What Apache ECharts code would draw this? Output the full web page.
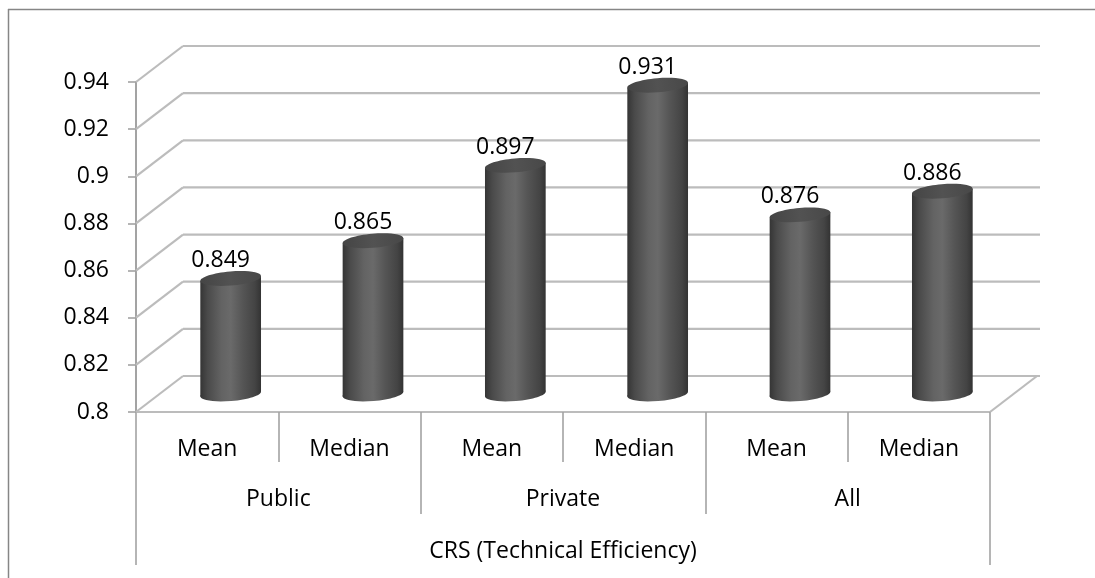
<!DOCTYPE html>
<html>
<head>
<meta charset="utf-8">
<script src="https://cdn.jsdelivr.net/npm/echarts@6/dist/echarts.min.js"></script>
<style>
  html, body { margin: 0; padding: 0; background: #fff; }
  #chart { width: 1095px; height: 578px; }
</style>
</head>
<body>
<div id="chart"></div>
<script>
// Technical efficiency (CRS) by ownership type
const categories = ['Mean', 'Median', 'Mean', 'Median', 'Mean', 'Median'];
const groups = ['Public', 'Private', 'All'];
const groupTitle = ['CRS (Technical Efficiency)'];
const values = [0.849, 0.865, 0.897, 0.931, 0.876, 0.886];
const yTicks = [0.8, 0.82, 0.84, 0.86, 0.88, 0.9, 0.92, 0.94];

const yMin = yTicks[0];
const yMax = yTicks[yTicks.length - 1];
const yStep = 0.02;

// pseudo-3D depth of the plot box (pixels)
const DX = 47;
const DY = -36;
const FONT = 'Open Sans';
const WALL = '#bcbcbc';
const AXIS = '#a3a3a3';

const chart = echarts.init(document.getElementById('chart'));

function renderWall(params, api) {
  const cs = params.coordSys;
  const x0 = cs.x;
  const x1 = cs.x + cs.width;
  const children = [];
  const ls = { stroke: WALL, lineWidth: 2.2 };
  yTicks.forEach(function (v) {
    const y = api.coord([0, v])[1];
    children.push({ type: 'line', shape: { x1: x0, y1: y, x2: x0 + DX, y2: y + DY }, style: ls });
    children.push({ type: 'line', shape: { x1: x0 + DX, y1: y + DY, x2: x1 + DX + 3, y2: y + DY }, style: ls });
  });
  const yb = api.coord([0, yMin])[1];
  children.push({ type: 'line', shape: { x1: x1, y1: yb, x2: x1 + DX, y2: yb + DY }, style: ls });
  return { type: 'group', children: children };
}

function renderBar(params, api) {
  const idx = api.value(0);
  const val = api.value(1);
  const top = api.coord([idx, val]);
  const base = api.coord([idx, yMin]);
  const cx = top[0] + DX / 2;
  const ty = top[1] + DY / 2;
  const by = base[1] + DY / 2;
  const rx = api.size([1, 0])[0] * 0.214;
  const ry = 7;
  const a = 0.085;
  const c = Math.cos(a), s = Math.sin(a);
  const bodyFill = new echarts.graphic.LinearGradient(0, 0, 1, 0, [
    { offset: 0, color: '#353535' },
    { offset: 0.12, color: '#4a4a4a' },
    { offset: 0.35, color: '#636363' },
    { offset: 0.5, color: '#6a6a6a' },
    { offset: 0.7, color: '#555555' },
    { offset: 0.9, color: '#444444' },
    { offset: 1, color: '#333333' }
  ]);
  const capFill = new echarts.graphic.LinearGradient(0, 0, 1, 0, [
    { offset: 0, color: '#454545' },
    { offset: 0.5, color: '#525252' },
    { offset: 1, color: '#484848' }
  ]);
  return {
    type: 'group',
    children: [
      {
        type: 'ellipse', x: cx, y: by, rotation: a,
        shape: { cx: 0, cy: 0, rx: rx, ry: ry },
        style: { fill: bodyFill }
      },
      {
        type: 'polygon',
        shape: { points: [
          [cx - rx * c, by + rx * s],
          [cx + rx * c, by - rx * s],
          [cx + rx * c, ty - rx * s],
          [cx - rx * c, ty + rx * s]
        ] },
        style: { fill: bodyFill }
      },
      {
        type: 'ellipse', x: cx, y: ty, rotation: a,
        shape: { cx: 0, cy: 0, rx: rx, ry: ry },
        style: { fill: capFill }
      },
      {
        type: 'text', x: cx - 10, y: ty - 18,
        style: {
          text: String(val), fill: '#000', font: '23px "' + FONT + '"',
          align: 'center', verticalAlign: 'middle'
        }
      }
    ]
  };
}

const option = {
  backgroundColor: '#ffffff',
  animation: false,
  grid: { left: 136, right: 105, top: 82, bottom: 166 },
  xAxis: [
    {
      type: 'category', data: categories, position: 'bottom',
      axisLine: { show: true, lineStyle: { color: WALL, width: 2.2 } },
      axisTick: { show: true, interval: 0, length: 50, lineStyle: { color: AXIS, width: 1.6 } },
      axisLabel: { interval: 0, margin: 26, color: '#000', fontFamily: FONT, fontSize: 23 },
      splitLine: { show: false }
    },
    {
      type: 'category', data: groups, position: 'bottom', offset: 50,
      axisLine: { show: false },
      axisTick: { show: true, interval: 0, length: 52, lineStyle: { color: AXIS, width: 1.6 } },
      axisLabel: { interval: 0, margin: 26, color: '#000', fontFamily: FONT, fontSize: 23 },
      splitLine: { show: false }
    },
    {
      type: 'category', data: groupTitle, position: 'bottom', offset: 102,
      axisLine: { show: false },
      axisTick: { show: true, interval: 0, length: 51, lineStyle: { color: AXIS, width: 1.6 } },
      axisLabel: { interval: 0, margin: 26, color: '#000', fontFamily: FONT, fontSize: 23 },
      splitLine: { show: false }
    }
  ],
  yAxis: {
    type: 'value', min: yMin, max: yMax, interval: yStep,
    axisLine: { show: true, lineStyle: { color: AXIS, width: 2 } },
    axisTick: { show: true, length: 8, lineStyle: { color: AXIS, width: 1.6 } },
    axisLabel: {
      margin: 27, color: '#000', fontFamily: FONT, fontSize: 23,
      padding: [5, 0, 0, 0],
      formatter: function (v) { return String(Math.round(v * 100) / 100); }
    },
    splitLine: { show: false }
  },
  graphic: [
    { type: 'line', shape: { x1: 8, y1: 9.5, x2: 1095, y2: 9.5 }, style: { stroke: '#868686', lineWidth: 1.5 }, z: 100 },
    { type: 'line', shape: { x1: 8.5, y1: 9, x2: 8.5, y2: 578 }, style: { stroke: '#868686', lineWidth: 1.5 }, z: 100 }
  ],
  series: [
    {
      type: 'custom', name: 'wall', xAxisIndex: 0, yAxisIndex: 0,
      clip: false, silent: true, z: 1,
      data: [[0, yMin]], renderItem: renderWall
    },
    {
      type: 'custom', name: 'CRS', xAxisIndex: 0, yAxisIndex: 0,
      clip: false, z: 5,
      data: values.map(function (v, i) { return [i, v]; }),
      renderItem: renderBar
    }
  ]
};

chart.setOption(option);
</script>
</body>
</html>
